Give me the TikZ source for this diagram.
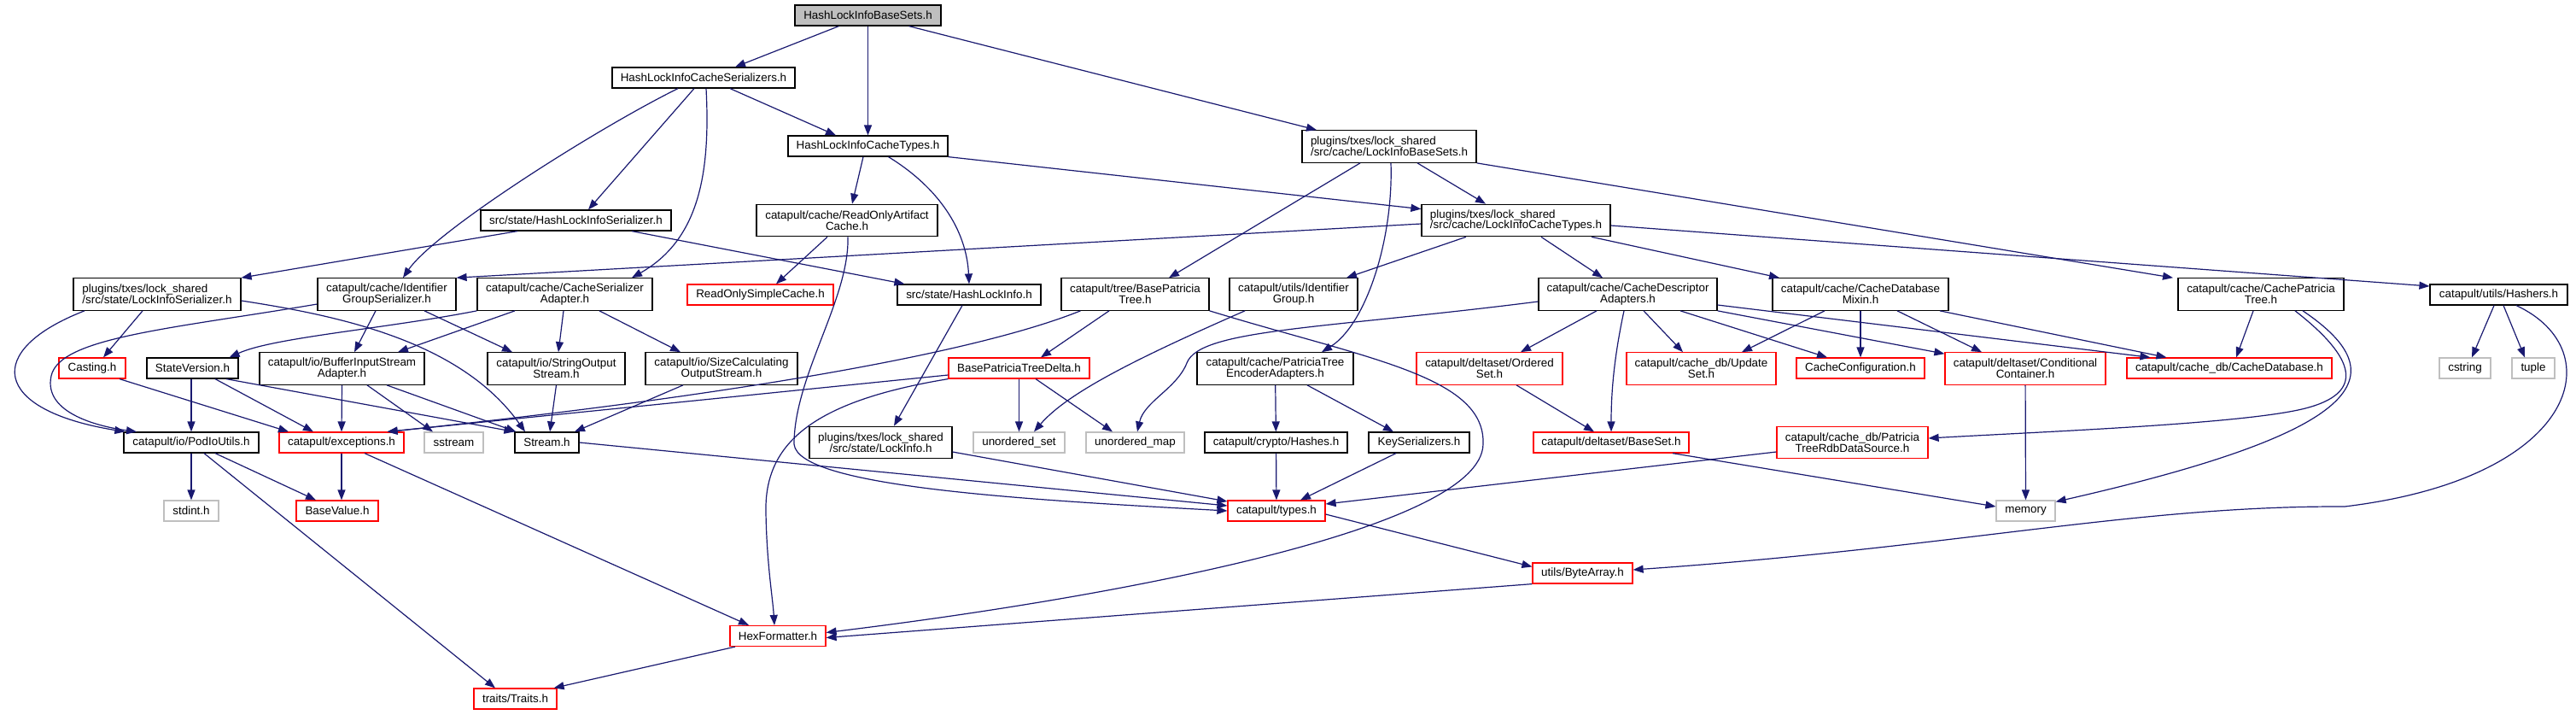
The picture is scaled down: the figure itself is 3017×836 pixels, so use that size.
\documentclass[tikz,border=0pt]{standalone}
\usepackage{fontspec}
\setmainfont{Liberation Sans}
\usetikzlibrary{arrows.meta}
\definecolor{edgeblue}{HTML}{191970}
\definecolor{sysgray}{HTML}{BFBFBF}
\newcommand{\hdrfont}{\fontsize{6.7pt}{6.4pt}\selectfont}

\begin{document}
\begin{tikzpicture}[x=0.5pt, y=-0.5pt, font=\hdrfont,
  hdr/.style={draw=black, fill=white, line width=0.6pt, minimum height=12pt, inner xsep=3pt, inner ysep=1pt, align=center},
  two/.style={minimum height=18.75pt},
  wd/.style={minimum width=#1*0.5pt},
  nodoc/.style={draw=red},
  sys/.style={draw=sysgray},
  rootfile/.style={fill=sysgray},
  dep/.style={draw=edgeblue, line width=0.6pt, -{Triangle[length=6pt,width=4.5pt]}}]
\path[use as bounding box, fill=white] (0,0) rectangle (3017,836);

% rows of headers
\node[hdr, rootfile, wd=171] (root) at (1016.5,18) {HashLockInfoBaseSets.h};
\node[hdr, wd=214] (ser) at (824,91) {HashLockInfoCacheSerializers.h};
\node[hdr, wd=187] (types) at (1016.5,171) {HashLockInfoCacheTypes.h};
\node[hdr, two, wd=204, align=left] (libs) at (1627,171.5) {plugins/txes/lock\_shared\\/src/cache/LockInfoBaseSets.h};
\node[hdr, wd=223] (hlis) at (674.5,258) {src/state/HashLockInfoSerializer.h};
\node[hdr, two, wd=212] (roac) at (992,258) {catapult/cache/ReadOnlyArtifact\\Cache.h};
\node[hdr, two, wd=221, align=left] (lict) at (1775.5,258) {plugins/txes/lock\_shared\\/src/cache/LockInfoCacheTypes.h};

\node[hdr, two, wd=196, align=left] (lis) at (184,344.5) {plugins/txes/lock\_shared\\/src/state/LockInfoSerializer.h};
\node[hdr, two, wd=162] (idgs) at (453,344.5) {catapult/cache/Identifier\\GroupSerializer.h};
\node[hdr, two, wd=205] (csa) at (661.5,344.5) {catapult/cache/CacheSerializer\\Adapter.h};
\node[hdr, nodoc, wd=171] (ross) at (890.5,345) {ReadOnlySimpleCache.h};
\node[hdr, wd=168] (hli) at (1135,345) {src/state/HashLockInfo.h};
\node[hdr, two, wd=173] (bpt) at (1329.5,344.5) {catapult/tree/BasePatricia\\Tree.h};
\node[hdr, two, wd=150] (uig) at (1515,344.5) {catapult/utils/Identifier\\Group.h};
\node[hdr, two, wd=209] (cda) at (1906.5,344.5) {catapult/cache/CacheDescriptor\\Adapters.h};
\node[hdr, two, wd=206] (cdm) at (2179,344.5) {catapult/cache/CacheDatabase\\Mixin.h};
\node[hdr, two, wd=194] (cpt) at (2648,344.5) {catapult/cache/CachePatricia\\Tree.h};
\node[hdr, wd=161] (hashers) at (2926.5,345) {catapult/utils/Hashers.h};

\node[hdr, nodoc, wd=78] (casting) at (108,431) {Casting.h};
\node[hdr, wd=107] (sv) at (225.5,431) {StateVersion.h};
\node[hdr, two, wd=193] (bisa) at (400.5,431.5) {catapult/io/BufferInputStream\\Adapter.h};
\node[hdr, two, wd=161] (soss) at (651.5,431.5) {catapult/io/StringOutput\\Stream.h};
\node[hdr, two, wd=178] (scos) at (845,431.5) {catapult/io/SizeCalculating\\OutputStream.h};
\node[hdr, nodoc, wd=165] (bptd) at (1193.5,431) {BasePatriciaTreeDelta.h};
\node[hdr, two, wd=183] (pte) at (1493.5,431.5) {catapult/cache/PatriciaTree\\EncoderAdapters.h};
\node[hdr, two, nodoc, wd=171] (oset) at (1744.5,431.5) {catapult/deltaset/Ordered\\Set.h};
\node[hdr, two, nodoc, wd=175] (uset) at (1992.5,431.5) {catapult/cache\_db/Update\\Set.h};
\node[hdr, nodoc, wd=150] (ccfg) at (2179,431) {CacheConfiguration.h};
\node[hdr, two, nodoc, wd=188] (ccont) at (2372,431.5) {catapult/deltaset/Conditional\\Container.h};
\node[hdr, nodoc, wd=240] (cdb) at (2611,431) {catapult/cache\_db/CacheDatabase.h};
\node[hdr, sys, wd=60] (cstring) at (2887,431) {cstring};
\node[hdr, sys, wd=50] (tuple) at (2967,431) {tuple};

\node[hdr, wd=158] (podio) at (224,518) {catapult/io/PodIoUtils.h};
\node[hdr, nodoc, wd=146] (exc) at (400,518) {catapult/exceptions.h};
\node[hdr, sys, wd=69] (sstream) at (531.5,518) {sstream};
\node[hdr, wd=75] (stream) at (640.5,518) {Stream.h};
\node[hdr, two, wd=167] (li) at (1031.5,518) {plugins/txes/lock\_shared\\/src/state/LockInfo.h};
\node[hdr, sys, wd=107] (uoset) at (1193.5,518) {unordered\_set};
\node[hdr, sys, wd=115] (umap) at (1329.5,518) {unordered\_map};
\node[hdr, wd=167] (chashes) at (1494.5,518) {catapult/crypto/Hashes.h};
\node[hdr, wd=118] (keyser) at (1662,518) {KeySerializers.h};
\node[hdr, nodoc, wd=182] (bset) at (1887,518) {catapult/deltaset/BaseSet.h};
\node[hdr, two, nodoc, wd=177] (ptrds) at (2169.5,518) {catapult/cache\_db/Patricia\\TreeRdbDataSource.h};

\node[hdr, sys, wd=64] (stdint) at (224,598) {stdint.h};
\node[hdr, nodoc, wd=96] (bval) at (395,598) {BaseValue.h};
\node[hdr, nodoc, wd=114] (ctypes) at (1495,598) {catapult/types.h};
\node[hdr, sys, wd=69] (memory) at (2372.5,598) {memory};
\node[hdr, nodoc, wd=117] (bytea) at (1853.5,671) {utils/ByteArray.h};
\node[hdr, nodoc, wd=112] (hexf) at (911,744.5) {HexFormatter.h};
\node[hdr, nodoc, wd=97] (traits) at (603.5,818) {traits/Traits.h};

% include edges
\draw[dep] ([xshift=-17pt]root.south) -- ([xshift=18.5pt]ser.north);
\draw[dep] (root) -- (types);
\draw[dep] ([xshift=24pt]root.south) -- ([xshift=-42.5pt]libs.north);
\draw[dep] ([xshift=-15pt]ser.south) .. controls (700,150) and (510,270) .. ([xshift=9.5pt]idgs.north);
\draw[dep] ([xshift=-5.5pt]ser.south) -- ([xshift=7.25pt]hlis.north);
\draw[dep] ([xshift=1.5pt]ser.south) .. controls (832,200) and (820,280) .. ([xshift=39.25pt]csa.north);
\draw[dep] ([xshift=15.5pt]ser.south) -- ([xshift=-18.75pt]types.north);
\draw[dep] ([xshift=-2.75pt]types.south) -- ([xshift=3pt]roac.north);
\draw[dep] ([xshift=12pt]types.south) .. controls (1100,220) and (1132,270) .. (hli.north);
\draw[dep] (types.south east) -- ([yshift=-3pt]lict.north west);
\draw[dep] ([xshift=-17pt]libs.south) -- ([xshift=19.75pt]bpt.north);
\draw[dep] ([xshift=1pt]libs.south) .. controls (1632,280) and (1600,380) .. ([xshift=27.25pt]pte.north);
\draw[dep] ([xshift=16.5pt]libs.south) -- ([xshift=-17.75pt]lict.north);
\draw[dep] (libs.south east) -- ([xshift=-51.5pt]cpt.north);
\draw[dep] ([xshift=-34.25pt]hlis.south) -- (lis.north east);
\draw[dep] ([xshift=32.75pt]hlis.south) -- ([xshift=4.5pt]hli.north west);
\draw[dep] ([xshift=-11.5pt]roac.south) -- ([xshift=9.25pt]ross.north);
\draw[dep] ([xshift=0.5pt]roac.south) .. controls (995,350) and (930,440) .. (930,520) .. controls (935,570) and (1200,585) .. (ctypes.west);
\draw[dep] ([yshift=-2pt]lict.west) -- (idgs.north east);
\draw[dep] ([xshift=-29.25pt]lict.south) -- ([xshift=31pt]uig.north);
\draw[dep] ([xshift=14.75pt]lict.south) -- ([xshift=-14.75pt]cda.north);
\draw[dep] ([xshift=44.25pt]lict.south) -- ([xshift=-47.5pt]cdm.north);
\draw[dep] ([yshift=-3pt]lict.east) -- ([yshift=5pt]hashers.west);

\draw[dep] ([xshift=-8.5pt]lis.south) -- ([xshift=6.5pt]casting.north);
\draw[dep] ([xshift=-42.5pt]lis.south) .. controls (-20,410) and (-10,480) .. ([xshift=1pt]podio.north west);
\draw[dep] ([yshift=-3.75pt]lis.east) .. controls (400,370) and (540,400) .. ([xshift=-12.75pt]stream.north);
\draw[dep] ([xshift=-6.5pt]idgs.south) -- ([xshift=7.25pt]bisa.north);
\draw[dep] ([xshift=22pt]idgs.south) -- ([xshift=-25.75pt]soss.north);
\draw[dep] ([yshift=-5.75pt]idgs.west) .. controls (200,385) and (70,395) .. (60,440) .. controls (50,485) and (120,500) .. ([xshift=-32pt]podio.north);
\draw[dep] (csa.south west) .. controls (450,385) and (320,395) .. ([xshift=-5.5pt]sv.north east);
\draw[dep] ([xshift=-29.25pt]csa.south) -- ([xshift=32.75pt]bisa.north);
\draw[dep] ([xshift=-0.75pt]csa.south) -- ([xshift=1.25pt]soss.north);
\draw[dep] ([xshift=20.25pt]csa.south) -- ([xshift=-24pt]scos.north);

\draw[dep] ([xshift=-0.75pt]sv.south) -- (podio.north);
\draw[dep] ([xshift=13.25pt]sv.south) -- ([xshift=-16.5pt]exc.north);
\draw[dep] ([xshift=19.75pt]sv.south) -- (stream.north west);
\draw[dep] ([xshift=16pt]casting.south) -- ([xshift=-31pt]exc.north);
\draw[dep] (bisa.south) -- (exc.north);
\draw[dep] ([xshift=14.75pt]bisa.south) -- ([xshift=-12.25pt]sstream.north);
\draw[dep] ([xshift=26.25pt]bisa.south) -- ([xshift=1pt]stream.north west);
\draw[dep] (soss.south) -- ([xshift=1.75pt]stream.north);
\draw[dep] ([xshift=-22.5pt]scos.south) -- ([xshift=16.25pt]stream.north);

\draw[dep] (podio) -- (stdint);
\draw[dep] ([xshift=14pt]podio.south) -- ([xshift=-12.5pt]bval.north);
\draw[dep] ([xshift=7.5pt]podio.south) -- ([xshift=-11.75pt]traits.north);
\draw[dep] (exc.south) -- ([xshift=2.5pt]bval.north);
\draw[dep] ([xshift=13.5pt]exc.south) -- ([xshift=-17pt]hexf.north);
\draw[dep] (stream.east) -- ([yshift=3pt]ctypes.west);
\draw[dep] ([xshift=-4pt]hli.south) -- ([xshift=7.75pt]li.north);
\draw[dep] ([yshift=-5.5pt]li.east) -- ([yshift=5.5pt]ctypes.west);

\draw[dep] ([xshift=-32pt]bpt.south) .. controls (1100,430) and (700,480) .. ([xshift=-10pt]exc.north east);
\draw[dep] ([xshift=-15.25pt]bpt.south) -- ([xshift=12.75pt]bptd.north);
\draw[dep] (bpt.south east) .. controls (1600,420) and (1740,440) .. (1737,520) .. controls (1735,620) and (1300,700) .. ([yshift=2pt]hexf.east);
\draw[dep] ([yshift=-4pt]bptd.west) -- ([xshift=-10pt]exc.north east);
\draw[dep] (bptd) -- (uoset);
\draw[dep] ([xshift=9.75pt]bptd.south) -- ([xshift=-13.25pt]umap.north);
\draw[dep] (bptd.south west) .. controls (950,470) and (895,520) .. (897,600) .. controls (898,660) and (905,700) .. ([xshift=-2pt]hexf.north);
\draw[dep] ([xshift=-28.5pt]uig.south) .. controls (1330,420) and (1250,460) .. ([xshift=8.75pt]uoset.north);

\draw[dep] ([yshift=-4.25pt]cda.west) .. controls (1550,385) and (1405,385) .. (1390,425) .. controls (1378,455) and (1340,470) .. ([xshift=1.25pt]umap.north);
\draw[dep] ([xshift=-18.25pt]cda.south) -- ([xshift=18.25pt]oset.north);
\draw[dep] ([xshift=-2.25pt]cda.south) .. controls (1890,420) and (1887,460) .. (bset.north);
\draw[dep] ([xshift=9.25pt]cda.south) -- ([xshift=-10.75pt]uset.north);
\draw[dep] ([xshift=30.75pt]cda.south) -- ([xshift=-19.5pt]ccfg.north);
\draw[dep] (cda.south east) -- ([yshift=-1pt]ccont.north west);
\draw[dep] ([yshift=-6.25pt]cda.east) -- ([xshift=14pt]cdb.north west);
\draw[dep] ([xshift=-21pt]cdm.south) -- ([xshift=23.75pt]uset.north);
\draw[dep] (cdm) -- (ccfg);
\draw[dep] ([xshift=21.5pt]cdm.south) -- ([xshift=-25.5pt]ccont.north);
\draw[dep] ([xshift=46.5pt]cdm.south) -- ([xshift=23.5pt]cdb.north west);
\draw[dep] ([xshift=-4.5pt]cpt.south) -- ([xshift=4pt]cdb.north);
\draw[dep] ([xshift=20pt]cpt.south) .. controls (2760,420) and (2770,460) .. (2700,478) .. controls (2630,496) and (2400,505) .. ([yshift=2.5pt]ptrds.east);
\draw[dep] ([xshift=24.5pt]cpt.south) .. controls (2810,440) and (2770,505) .. ([yshift=-1pt]memory.north east);
\draw[dep] ([xshift=-2.75pt]hashers.south) -- ([xshift=4pt]cstring.north);
\draw[dep] ([xshift=2.75pt]hashers.south) -- ([xshift=-5pt]tuple.north);
\draw[dep] ([xshift=10.25pt]hashers.south) .. controls (3060,410) and (3020,560) .. (2746,593) .. controls (2500,592) and (2300,640) .. ([yshift=2pt]bytea.east);

\draw[dep] (ccont) -- (memory);
\draw[dep] ([xshift=36pt]bset.south) -- ([yshift=2.5pt]memory.west);
\draw[dep] ([xshift=15.75pt]oset.south) -- ([xshift=-10pt]bset.north);
\draw[dep] ([yshift=-5.5pt]ptrds.west) -- ([yshift=4pt]ctypes.east);
\draw[dep] (pte) -- (chashes);
\draw[dep] ([xshift=18.75pt]pte.south) -- ([xshift=-15pt]keyser.north);
\draw[dep] (chashes) -- (ctypes);
\draw[dep] ([xshift=-13.5pt]keyser.south) -- ([xshift=14pt]ctypes.north);
\draw[dep] ([yshift=-2pt]ctypes.east) -- ([yshift=-2.5pt]bytea.north west);
\draw[dep] (bytea.south west) -- ([yshift=-1pt]hexf.east);
\draw[dep] ([xshift=-25pt]hexf.south) -- ([xshift=-2pt]traits.north east);
\end{tikzpicture}
\end{document}
